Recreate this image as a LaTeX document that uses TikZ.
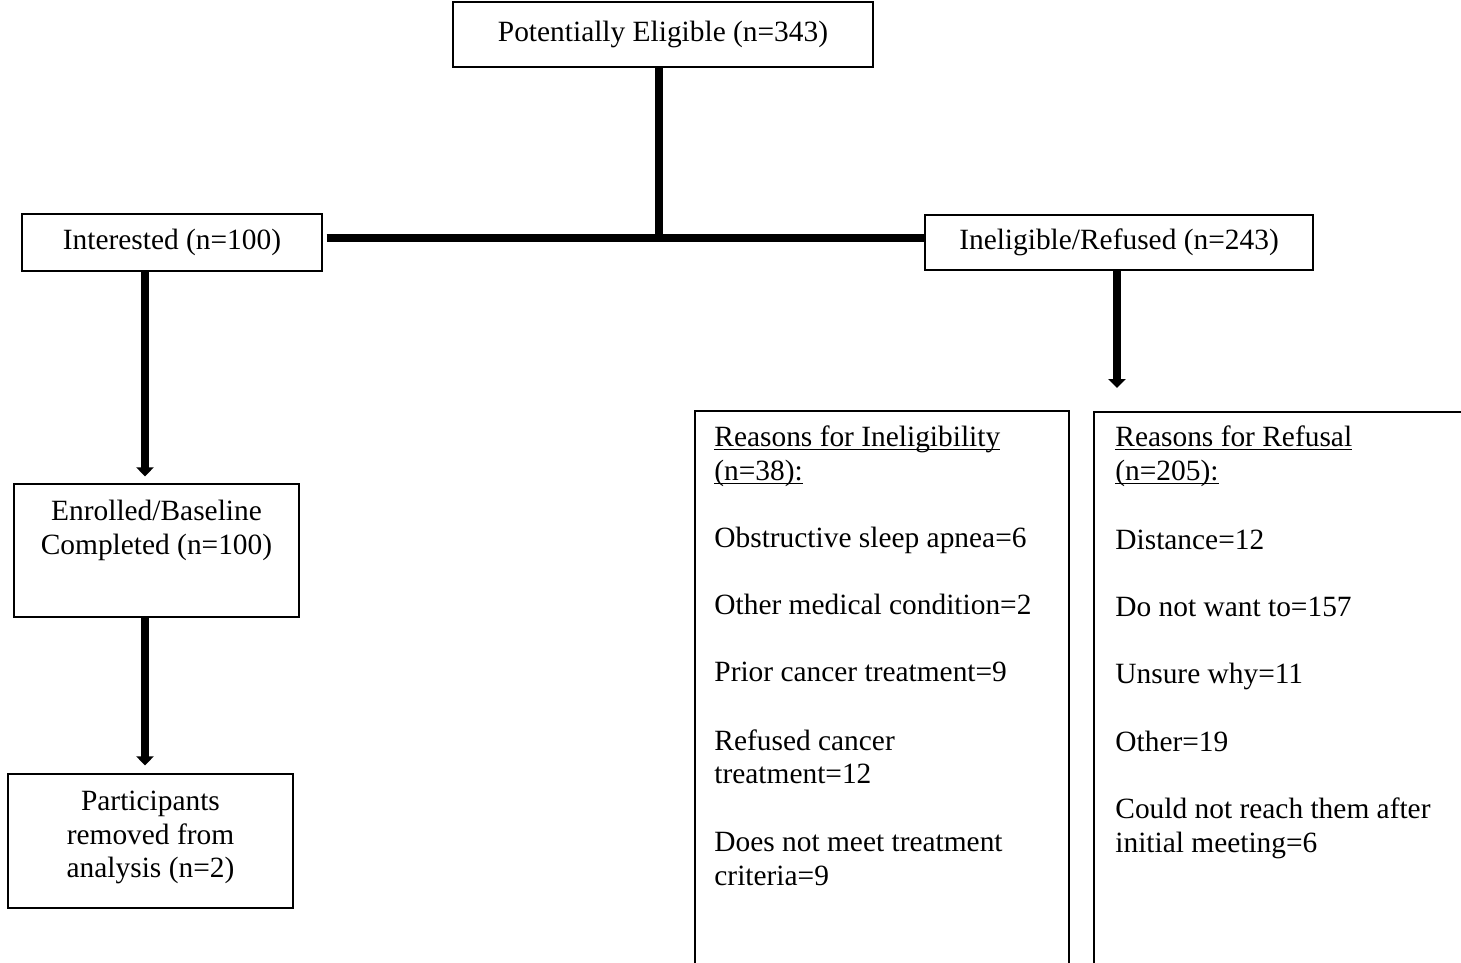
\documentclass[tikz,border=0pt]{standalone}
\usepackage{fontspec}
\setmainfont{Liberation Serif}
\usetikzlibrary{arrows.meta,calc}
% underline at a fixed depth below the baseline
\newcommand{\ulx}[1]{\setbox0\hbox{#1}\rlap{\rule[-2.1pt]{\wd0}{0.75pt}}\box0}
\begin{document}
\begin{tikzpicture}[x=0.5pt,y=-0.5pt,
  every node/.style={font=\fontsize{14.7pt}{17pt}\selectfont, inner sep=0pt},
  box/.style={draw, line width=0.6pt, inner sep=0pt, align=center},
  lbl/.style={anchor=base},
  ltxt/.style={anchor=base west},
  conn/.style={line width=4pt},
  arr/.style={conn, -{Triangle[width=8.5pt,length=4.5pt]}},
  frame/.style={line width=0.6pt}]
\useasboundingbox (0,0) rectangle (1461,963);

% main boxes
\node[box, minimum width=210pt, minimum height=32.5pt] (top) at (663,34.5) {Potentially Eligible (n=343)};
\node[box, minimum width=150pt, minimum height=28.5pt] (intr) at (172,242.5) {Interested (n=100)};
\node[box, minimum width=194pt, minimum height=27.5pt] (inel) at (1119,242.5) {Ineligible/Refused (n=243)};
\node[box, minimum width=142.5pt, minimum height=66.5pt] (enr) at (156.5,550.5) {};
\node[lbl] (enr1) at (156.5,520) {Enrolled/Baseline};
\node[lbl] (enr2) at (156.5,554) {Completed (n=100)};
\node[box, minimum width=142.5pt, minimum height=67pt] (part) at (150.5,841) {};
\node[lbl] (part1) at (150.5,810) {Participants};
\node[lbl] (part2) at (150.5,844) {removed from};
\node[lbl] (part3) at (150.5,877) {analysis (n=2)};

% split below the first box
\coordinate (junc) at (659,238);
\draw[conn] (top.south -| junc) -- (junc);
\draw[conn] ($(intr.east |- junc)+(4,0)$) -- (inel.west |- junc);

% downward arrows
\coordinate (ax) at (145,0);
\draw[arr] (intr.south -| ax) -- ($(enr.north -| ax)+(0,-7)$);
\draw[arr] (enr.south -| ax) -- ($(part.north -| ax)+(0,-8)$);
\coordinate (a3e) at (1117,388);
\draw[arr] (inel.south -| a3e) -- (a3e);

% open-ended reason panels
\draw[frame] (695,975) -- (695,411) -- (1069,411) -- (1069,975);
\draw[frame] (1094,975) -- (1094,412) -- (1475,412);

% ineligibility reasons
\node[ltxt] (ie1) at (714,446) {\ulx{Reasons for Ineligibility}};
\node[ltxt] (ie2) at (714,480) {\ulx{(n=38):}};
\node[ltxt] (ie3) at (714,547) {Obstructive sleep apnea=6};
\node[ltxt] (ie4) at (714,614) {Other medical condition=2};
\node[ltxt] (ie5) at (714,681) {Prior cancer treatment=9};
\node[ltxt] (ie6) at (714,750) {Refused cancer};
\node[ltxt] (ie7) at (714,783) {treatment=12};
\node[ltxt] (ie8) at (714,851) {Does not meet treatment};
\node[ltxt] (ie9) at (714,885) {criteria=9};

% refusal reasons
\node[ltxt] (rf1) at (1115,446) {\ulx{Reasons for Refusal}};
\node[ltxt] (rf2) at (1115,480) {\ulx{(n=205):}};
\node[ltxt] (rf3) at (1115,549) {Distance=12};
\node[ltxt] (rf4) at (1115,616) {Do not want to=157};
\node[ltxt] (rf5) at (1115,683) {Unsure why=11};
\node[ltxt] (rf6) at (1115,751) {Other=19};
\node[ltxt] (rf7) at (1115,818) {Could not reach them after};
\node[ltxt] (rf8) at (1115,852) {initial meeting=6};
\end{tikzpicture}
\end{document}
